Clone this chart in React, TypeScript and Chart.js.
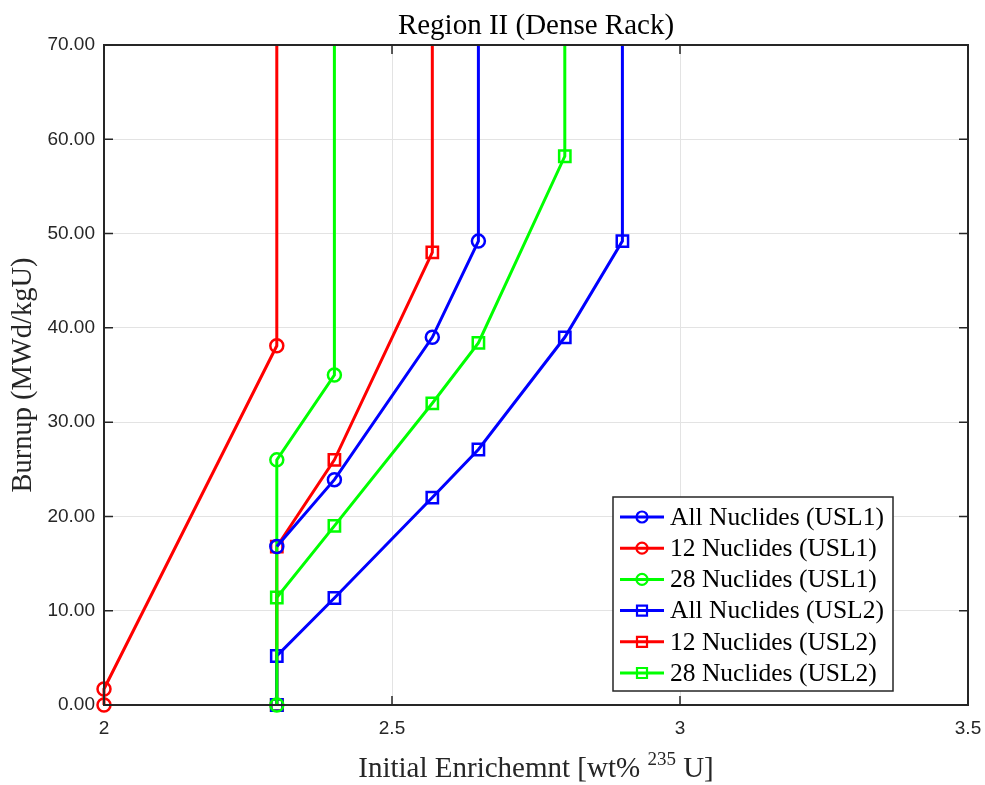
import { useEffect, useRef } from 'react';
import { Chart, registerables } from 'chart.js';

Chart.register(...registerables);

// ---- Data ----
const seriesNames = [
  'All Nuclides (USL1)',
  '12 Nuclides (USL1)',
  '28 Nuclides (USL1)',
  'All Nuclides (USL2)',
  '12 Nuclides (USL2)',
  '28 Nuclides (USL2)',
];

const allUsl1X = [2.3, 2.4, 2.57, 2.65, 2.65];
const allUsl1Y = [16.8, 23.9, 39.0, 49.2, 70];

const n12Usl1X = [2.0, 2.0, 2.3, 2.3];
const n12Usl1Y = [0, 1.7, 38.1, 70];

const n28Usl1X = [2.3, 2.3, 2.4, 2.4];
const n28Usl1Y = [0, 26.0, 35.0, 70];

const allUsl2X = [2.3, 2.3, 2.4, 2.57, 2.65, 2.8, 2.9, 2.9];
const allUsl2Y = [0, 5.2, 11.35, 22.0, 27.1, 39.0, 49.2, 70];

const n12Usl2X = [2.3, 2.3, 2.4, 2.57, 2.57];
const n12Usl2Y = [0, 16.8, 26.0, 48.0, 70];

const n28Usl2X = [2.3, 2.3, 2.4, 2.57, 2.65, 2.8, 2.8];
const n28Usl2Y = [0, 11.4, 19.0, 32.0, 38.4, 58.2, 70];

const xTickValues = [2, 2.5, 3, 3.5];
const yTickValues = [0, 10, 20, 30, 40, 50, 60, 70];

const titleText = 'Region II (Dense Rack)';
const yTitleText = 'Burnup (MWd/kgU)';
const xTitleMain = 'Initial Enrichemnt [wt% ';
const xTitleSup = '235';
const xTitleEnd = ' U]';

const BLUE = '#0000ff';
const RED = '#ff0000';
const GREEN = '#00ff00';

const SERIF = '"Liberation Serif", "Times New Roman", serif';
const SANS = '"Liberation Sans", Arial, sans-serif';

function zip(xs: number[], ys: number[]) {
  return xs.map((x, i) => ({ x, y: ys[i] }));
}

const seriesDefs = [
  { xs: allUsl1X, ys: allUsl1Y, color: BLUE, style: 'circle' },
  { xs: n12Usl1X, ys: n12Usl1Y, color: RED, style: 'circle' },
  { xs: n28Usl1X, ys: n28Usl1Y, color: GREEN, style: 'circle' },
  { xs: allUsl2X, ys: allUsl2Y, color: BLUE, style: 'rect' },
  { xs: n12Usl2X, ys: n12Usl2Y, color: RED, style: 'rect' },
  { xs: n28Usl2X, ys: n28Usl2Y, color: GREEN, style: 'rect' },
];

const frameColor = '#262626';

const framePlugin = {
  id: 'frame',
  afterDatasetsDraw(chart: any) {
    const { ctx, chartArea: a, scales } = chart;
    ctx.save();
    ctx.strokeStyle = frameColor;
    ctx.lineWidth = 2;
    ctx.strokeRect(a.left, a.top, a.right - a.left, a.bottom - a.top);
    ctx.lineWidth = 1.5;
    const tl = 9;
    ctx.beginPath();
    xTickValues.forEach((v) => {
      const px = scales.x.getPixelForValue(v);
      ctx.moveTo(px, a.bottom);
      ctx.lineTo(px, a.bottom - tl);
      ctx.moveTo(px, a.top);
      ctx.lineTo(px, a.top + tl);
    });
    yTickValues.forEach((v) => {
      const py = scales.y.getPixelForValue(v);
      ctx.moveTo(a.left, py);
      ctx.lineTo(a.left + tl, py);
      ctx.moveTo(a.right, py);
      ctx.lineTo(a.right - tl, py);
    });
    ctx.stroke();
    ctx.restore();
  },
  afterDraw(chart: any) {
    const { ctx, chartArea: a } = chart;
    ctx.save();
    ctx.fillStyle = '#000';
    // title
    ctx.font = `29px ${SERIF}`;
    ctx.textAlign = 'center';
    ctx.textBaseline = 'alphabetic';
    ctx.fillText(titleText, (a.left + a.right) / 2, 34);

    // x title with superscript
    const cx = (a.left + a.right) / 2;
    ctx.textAlign = 'left';
    const mainFont = `29px ${SERIF}`;
    const supFont = `19px ${SERIF}`;
    ctx.font = mainFont;
    const w1 = ctx.measureText(xTitleMain).width;
    const w3 = ctx.measureText(xTitleEnd).width;
    ctx.font = supFont;
    const w2 = ctx.measureText(xTitleSup).width;
    let sx = cx - (w1 + w2 + w3) / 2;
    const by = 777;
    ctx.font = mainFont;
    ctx.fillStyle = '#262626';
    ctx.fillText(xTitleMain, sx, by);
    sx += w1;
    ctx.font = supFont;
    ctx.fillText(xTitleSup, sx, by - 12);
    sx += w2;
    ctx.font = mainFont;
    ctx.fillText(xTitleEnd, sx, by);

    // y title
    ctx.save();
    ctx.translate(31, (a.top + a.bottom) / 2);
    ctx.rotate(-Math.PI / 2);
    ctx.font = `28.5px ${SERIF}`;
    ctx.textAlign = 'center';
    ctx.fillText(yTitleText, 0, 0);
    ctx.restore();

    // legend
    const lx = 613, ly = 497, lw = 280, lh = 194;
    ctx.fillStyle = '#fff';
    ctx.fillRect(lx, ly, lw, lh);
    ctx.strokeStyle = frameColor;
    ctx.lineWidth = 1.5;
    ctx.strokeRect(lx, ly, lw, lh);
    const rowH = 31.2;
    chart.data.datasets.forEach((ds: any, i: number) => {
      const cy = ly + 20 + i * rowH;
      ctx.strokeStyle = ds.borderColor;
      ctx.lineWidth = 3;
      ctx.beginPath();
      ctx.moveTo(620, cy);
      ctx.lineTo(664, cy);
      ctx.stroke();
      ctx.lineWidth = 2.2;
      ctx.beginPath();
      if (ds.pointStyle === 'circle') {
        ctx.arc(642, cy, 5.5, 0, Math.PI * 2);
      } else {
        ctx.rect(642 - 5, cy - 5, 10, 10);
      }
      ctx.stroke();
      ctx.fillStyle = '#000';
      ctx.font = `25.5px ${SERIF}`;
      ctx.textAlign = 'left';
      ctx.textBaseline = 'middle';
      ctx.fillText(ds.label, 670, cy + 1);
    });
    ctx.restore();
  },
};

export default function App() {
  const ref = useRef<HTMLCanvasElement | null>(null);
  useEffect(() => {
    if (!ref.current) return;
    const datasets = seriesDefs.map((s, i) => ({
      label: seriesNames[i],
      data: zip(s.xs, s.ys),
      borderColor: s.color,
      backgroundColor: 'rgba(0,0,0,0)',
      pointBorderColor: s.color,
      pointBackgroundColor: 'rgba(0,0,0,0)',
      borderWidth: 3,
      pointBorderWidth: 2.5,
      pointStyle: s.style,
      pointRadius: (c: any) => (c.raw && c.raw.y >= 70 ? 0 : s.style === 'circle' ? 6.5 : 8),
      showLine: true,
      tension: 0,
      clip: false,
    }));
    const chart = new Chart(ref.current, {
      type: 'scatter',
      data: { datasets },
      options: {
        animation: false,
        responsive: false,
        devicePixelRatio: 1,
        layout: { padding: { left: 0, right: 17, top: 45, bottom: 0 } },
        plugins: {
          legend: { display: false },
          tooltip: { enabled: false },
          title: { display: false },
        },
        scales: {
          x: {
            type: 'linear',
            min: 2,
            max: 3.5,
            afterBuildTicks: (sc: any) => {
              sc.ticks = xTickValues.map((v) => ({ value: v }));
            },
            afterFit: (sc: any) => {
              sc.height = 80;
              sc.paddingLeft = 0;
              sc.paddingRight = 0;
            },
            grid: { color: '#e3e3e3', lineWidth: 1, drawTicks: false },
            border: { display: false },
            ticks: {
              padding: 12,
              color: '#262626',
              font: { family: SANS, size: 19 },
              callback: (v: any) => String(v),
            },
          },
          y: {
            type: 'linear',
            min: 0,
            max: 70,
            afterBuildTicks: (sc: any) => {
              sc.ticks = yTickValues.map((v) => ({ value: v }));
            },
            afterFit: (sc: any) => {
              sc.width = 104;
              sc.paddingTop = 0;
              sc.paddingBottom = 0;
            },
            grid: { color: '#e3e3e3', lineWidth: 1, drawTicks: false },
            border: { display: false },
            ticks: {
              padding: 9,
              color: '#262626',
              font: { family: SANS, size: 19 },
              callback: (v: any) => Number(v).toFixed(2),
            },
          },
        },
      },
      plugins: [framePlugin],
    } as any);
    return () => chart.destroy();
  }, []);
  return (
    <div style={{ position: 'absolute', left: 0, top: 0, width: 985, height: 785, background: '#fff' }}>
      <canvas ref={ref} width={985} height={785} />
    </div>
  );
}
